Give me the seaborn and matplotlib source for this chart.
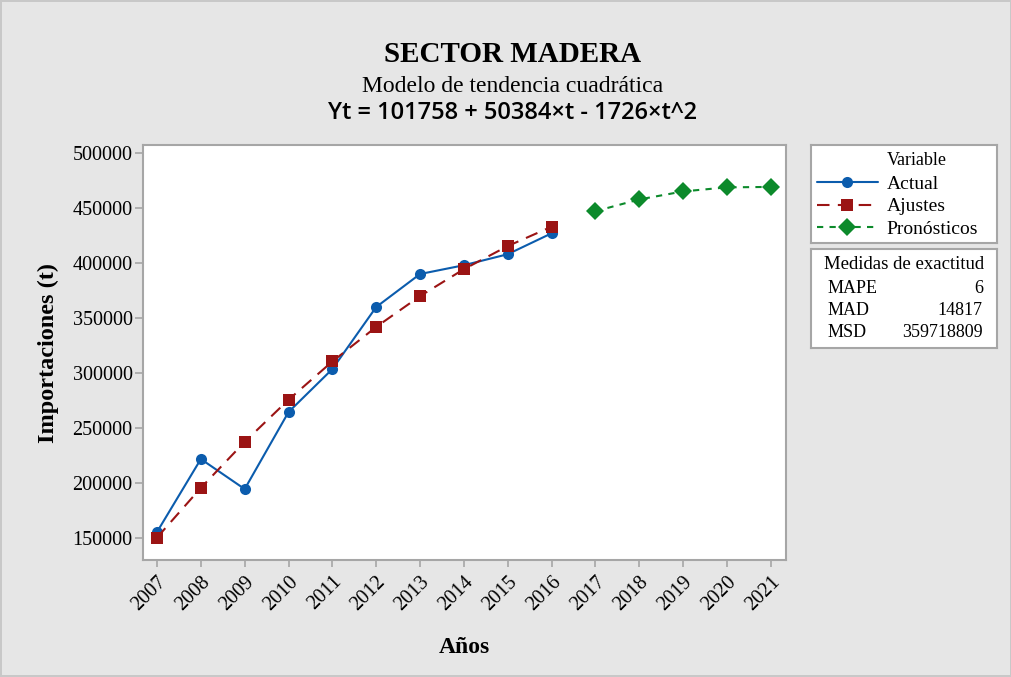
import matplotlib
matplotlib.use("Agg")
import matplotlib.pyplot as plt
import seaborn as sns

# values
years_obs = [2007, 2008, 2009, 2010, 2011, 2012, 2013, 2014, 2015, 2016]
actual = [155500, 221800, 194500, 264500, 303600, 360000, 390000, 398000, 408000, 427000]
fits = [150400, 195600, 237400, 275700, 310500, 341900, 369900, 394400, 415400, 433000]
years_fc = [2017, 2018, 2019, 2020, 2021]
forecast = [447100, 457800, 465100, 468800, 469200]

accuracy_names = ["MAPE", "MAD", "MSD"]
accuracy_values = ["6", "14817", "359718809"]

sns.set_theme(style="white")
plt.rcParams['font.family'] = ['Liberation Serif', 'DejaVu Serif']
for k in ['text.color', 'axes.labelcolor', 'xtick.color', 'ytick.color']:
    plt.rcParams[k] = 'black'

bg = '#e6e6e6'
edge = '#a6a6a6'
fig = plt.figure(figsize=(10.12, 6.77), dpi=100, facecolor=bg)
fig.patch.set_edgecolor('#c8c8c8')
fig.patch.set_linewidth(1.5)

ax = fig.add_axes([0.1413, 0.1728, 0.6354, 0.613])
ax.set_facecolor('white')

sns.lineplot(x=years_obs, y=actual, ax=ax, color='#0b5cad', marker='o', markersize=8,
             markeredgewidth=0, lw=1.5, label='Actual')
sns.lineplot(x=years_obs, y=fits, ax=ax, color='#9b1414', marker='s', markersize=8,
             markeredgewidth=0, lw=1.5, dashes=(6, 4), label='Ajustes')
sns.lineplot(x=years_fc, y=forecast, ax=ax, color='#0c8a2b', marker='D', markersize=9.5,
             markeredgewidth=0, lw=1.5, dashes=(3, 3), label='Pronósticos')
handles, labels = ax.get_legend_handles_labels()
ax.get_legend().remove()

ax.set_xlim(2006.68, 2021.35)
ax.set_ylim(130000, 507300)
ax.set_xticks(range(2007, 2022))
ax.set_xticklabels([str(y) for y in range(2007, 2022)], rotation=45, ha='right',
                   rotation_mode='anchor', fontsize=14.5)
ax.set_yticks([150000, 200000, 250000, 300000, 350000, 400000, 450000, 500000])
ax.set_yticklabels([str(v) for v in ax.get_yticks().astype(int)], fontsize=14.5)
ax.tick_params(axis='both', direction='out', length=6, width=1.2, color=edge,
               bottom=True, left=True, pad=1.5)
ax.tick_params(axis='x', length=5, pad=4)
for s in ax.spines.values():
    s.set_color(edge)
    s.set_linewidth(1.5)

ax.set_xlabel('Años', fontsize=17, fontweight='bold', labelpad=16)
ax.set_ylabel('Importaciones (t)', fontsize=17.5, fontweight='bold', labelpad=10)

fig.text(0.506, 0.920, 'SECTOR MADERA', ha='center', va='center', fontsize=21, fontweight='bold')
fig.text(0.506, 0.872, 'Modelo de tendencia cuadrática', ha='center', va='center', fontsize=17)
fig.text(0.506, 0.8335, 'Yt = 101758 + 50384×t - 1726×t^2', ha='center', va='center',
         fontsize=17, fontweight='semibold', family=['Open Sans', 'DejaVu Sans'])

# legend box
lax = fig.add_axes([0.8014, 0.641, 0.1836, 0.1448])
lax.set_xticks([])
lax.set_yticks([])
lax.set_xlim(0, 1)
lax.set_ylim(0, 1)
lax.set_facecolor('white')
for s in lax.spines.values():
    s.set_color(edge)
    s.set_linewidth(1.5)
lax.text(0.57, 0.84, 'Variable', ha='center', va='center', fontsize=13)
lax.legend(handles, labels, loc='upper left', bbox_to_anchor=(0.01, 0.73), frameon=False,
           fontsize=14, handlelength=3.15, handletextpad=0.45, labelspacing=0.25,
           borderpad=0.0, borderaxespad=0.2)

# accuracy box
bax = fig.add_axes([0.8014, 0.486, 0.1836, 0.146])
bax.set_xticks([])
bax.set_yticks([])
bax.set_xlim(0, 1)
bax.set_ylim(0, 1)
bax.set_facecolor('white')
for s in bax.spines.values():
    s.set_color(edge)
    s.set_linewidth(1.5)
bax.text(0.5, 0.84, 'Medidas de exactitud', ha='center', va='center', fontsize=13.5)
for i, (n, v) in enumerate(zip(accuracy_names, accuracy_values)):
    yy = 0.60 - i * 0.22
    bax.text(0.09, yy, n, ha='left', va='center', fontsize=13)
    bax.text(0.925, yy, v, ha='right', va='center', fontsize=13)

fig.savefig('out.png', dpi=100, facecolor=fig.get_facecolor(), edgecolor=fig.patch.get_edgecolor())
